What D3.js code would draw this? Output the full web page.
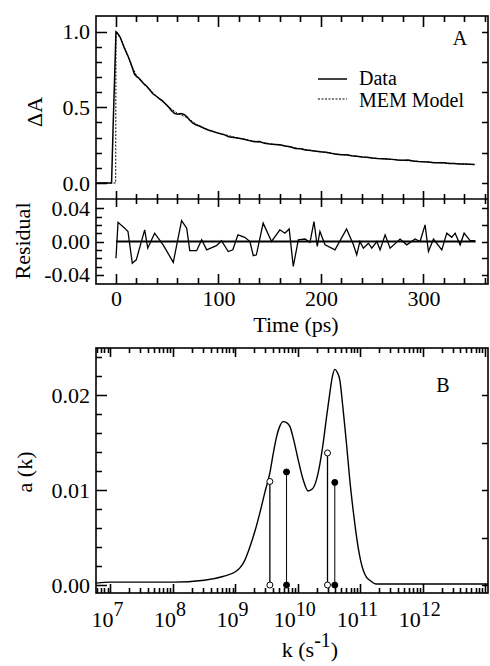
<!DOCTYPE html>
<html>
<head>
<meta charset="utf-8">
<script src="https://cdn.jsdelivr.net/npm/d3@7"></script>
<style>
body { margin: 0; background: #fff; }
text { font-family: "Liberation Serif", "Times New Roman", serif; fill: #000; }
</style>
</head>
<body>
<svg id="chart" width="490" height="666"></svg>
<script>
// panel A: transient absorption data (time in ps)
const dataTimes = [-19.5, -4.3, -2.8, 0, 1, 2, 4, 6, 8, 10, 12, 14, 16, 18, 20, 22, 24, 26, 28, 30, 33, 36, 39, 42, 45, 48, 51, 54, 57, 60, 63, 66, 69, 72, 75, 78, 82, 86, 90, 94, 98, 102, 106, 110, 115, 120, 125, 130, 135, 140, 145, 150, 155, 160, 165, 170, 175, 180, 185, 190, 195, 200, 205, 210, 215, 220, 225, 230, 235, 240, 245, 250, 255, 260, 265, 270, 275, 280, 285, 290, 295, 300, 305, 310, 315, 320, 325, 330, 335, 340, 345, 350]
const dataValues = [0, 0, 0.37, 1.0, 0.995, 0.985, 0.965, 0.93, 0.895, 0.865, 0.835, 0.8, 0.76, 0.72, 0.705, 0.695, 0.68, 0.665, 0.65, 0.64, 0.615, 0.59, 0.575, 0.56, 0.545, 0.525, 0.505, 0.48, 0.46, 0.455, 0.46, 0.455, 0.44, 0.415, 0.395, 0.385, 0.375, 0.362, 0.35, 0.342, 0.333, 0.325, 0.318, 0.306, 0.3, 0.296, 0.289, 0.28, 0.272, 0.274, 0.262, 0.258, 0.255, 0.252, 0.244, 0.24, 0.228, 0.226, 0.218, 0.214, 0.21, 0.206, 0.203, 0.196, 0.19, 0.186, 0.187, 0.18, 0.176, 0.172, 0.17, 0.165, 0.161, 0.16, 0.158, 0.156, 0.152, 0.151, 0.152, 0.146, 0.142, 0.14, 0.139, 0.134, 0.133, 0.134, 0.129, 0.128, 0.126, 0.125, 0.124, 0.122]

const modelTimes = [-19.5, -0.3, 0, 5, 10, 15, 20, 25, 30, 40, 50, 60, 70, 80, 90, 100, 120, 140, 160, 180, 200, 225, 250, 275, 300, 325, 350]
const modelValues = [0, 0, 1.0, 0.95, 0.865, 0.78, 0.71, 0.672, 0.64, 0.57, 0.51, 0.46, 0.43, 0.38, 0.35, 0.33, 0.296, 0.27, 0.25, 0.227, 0.205, 0.184, 0.165, 0.152, 0.14, 0.13, 0.122]

const residTimes = [0, 2, 8.5, 11.7, 15.9, 19.8, 28, 31, 37.7, 46, 55.9, 64, 69, 72, 78.7, 83.6, 88.5, 98, 103, 109.5, 114, 119, 125.7, 130.7, 134, 137, 143.6, 151.8, 159.9, 164.8, 169, 173, 177.9, 184.4, 189.3, 193.2, 196.4, 199, 204, 213.7, 225, 231.7, 234.9, 238, 241.4, 246.3, 249.6, 254.5, 257.7, 262.6, 267.5, 277.2, 283.7, 291.9, 296.7, 301.6, 304.9, 309.8, 317.9, 322.8, 327.6, 330.9, 335.8, 339.7, 345.5, 350.4]
const residValues = [-0.02, 0.023, 0.016, 0.012, -0.026, -0.022, 0.014, -0.008, 0.01, -0.004, -0.025, 0.025, 0.016, -0.011, -0.011, 0.002, -0.01, -0.005, 0.001, -0.012, -0.01, 0.008, 0.005, 0, -0.017, -0.016, 0.022, 0, 0.014, 0.01, 0.015, -0.03, 0.002, 0.003, -0.001, 0.024, -0.006, 0.012, -0.004, -0.01, 0.015, -0.004, -0.016, 0, -0.008, -0.002, -0.008, 0, -0.01, 0.008, -0.008, 0.003, -0.004, 0.003, 0, 0.02, -0.012, 0.003, -0.01, 0.01, 0.005, 0.01, -0.004, 0.01, 0.001, 0.001]

// panel B: rate distribution, log10(k) and amplitude
const memLogK = [6.77, 7.0, 7.5, 8.0, 8.5, 8.8, 9.0, 9.072, 9.15, 9.232, 9.31, 9.392, 9.47, 9.552, 9.605, 9.659, 9.71, 9.765, 9.82, 9.872, 9.94, 10.005, 10.085, 10.165, 10.23, 10.299, 10.352, 10.405, 10.46, 10.512, 10.552, 10.592, 10.63, 10.672, 10.72, 10.779, 10.83, 10.885, 10.925, 10.965, 11.005, 11.045, 11.1, 11.152, 11.25, 11.5, 12.0, 13.05]
const memAmp = [0.0002, 0.0003, 0.0003, 0.0003, 0.0005, 0.0009, 0.0014, 0.0018, 0.0026, 0.004, 0.0056, 0.0076, 0.0097, 0.0118, 0.0138, 0.0156, 0.0167, 0.0172, 0.0171, 0.0167, 0.0151, 0.0132, 0.0111, 0.0099, 0.0101, 0.0111, 0.0127, 0.0149, 0.0177, 0.0202, 0.0219, 0.0227, 0.0224, 0.0216, 0.0188, 0.0149, 0.0112, 0.0079, 0.0058, 0.004, 0.0026, 0.0016, 0.0008, 0.0005, 0.0001, 0.0001, 0.0001, 0.0001]

const stemLogK = [9.552, 9.819, 10.475, 10.592]
const stemAmp = [0.0109, 0.0119, 0.0139, 0.0108]
const stemFilled = [false, true, false, true]

const decadeLabels = [7, 8, 9, 10, 11, 12]

const FONT = '"Liberation Serif", "Times New Roman", serif'
const svg = d3.select('#chart')
const L = 96, R = 488

// tick marks drawn as one path per group, from the scales
function xTicks(scale, values, y, len) {
  let d = values.map(v => `M${Math.round(scale(v)) + 0.5},${y}V${y + len}`).join('')
  svg.append('path').attr('d', d).attr('fill', 'none').attr('stroke', '#000').attr('stroke-width', 1.6)
}
function yTicks(scale, values, x, len) {
  let d = values.map(v => `M${x},${Math.round(scale(v)) + 0.5}H${x + len}`).join('')
  svg.append('path').attr('d', d).attr('fill', 'none').attr('stroke', '#000').attr('stroke-width', 1.6)
}
// tick labels through d3 axes
function labelAxis(axis, transform) {
  let g = svg.append('g').attr('transform', transform).call(axis)
  g.select('.domain').remove()
  g.selectAll('line').remove()
  g.selectAll('text').attr('font-family', FONT).attr('font-size', 22).attr('fill', '#000')
  return g
}
function label(x, y, txt, size) {
  return svg.append('text').attr('x', x).attr('y', y).attr('text-anchor', 'middle')
    .attr('font-family', FONT).attr('font-size', size || 22).text(txt)
}

// ---------- panel A ----------
let xA = d3.scaleLinear().domain([-19.5, 363]).range([L, R])
let yA = d3.scaleLinear().domain([-0.106, 1.104]).range([199, 16])
let yR = d3.scaleLinear().domain([-0.051, 0.051]).range([284, 199])

let tMajor = [0, 100, 200, 300]
let tMinor = d3.range(-20, 361, 20).filter(v => v % 100 !== 0 && v >= -19)

svg.append('rect').attr('x', L).attr('y', 16).attr('width', R - L).attr('height', 284 - 16)
  .attr('fill', 'none').attr('stroke', '#000').attr('stroke-width', 1.6)
svg.append('line').attr('x1', L).attr('x2', R).attr('y1', 199).attr('y2', 199)
  .attr('stroke', '#000').attr('stroke-width', 1.6)

xTicks(xA, tMajor, 16, 11)
xTicks(xA, tMinor, 16, 6)
xTicks(xA, tMajor, 191, 16)
xTicks(xA, tMinor, 194, 10)
xTicks(xA, tMajor, 284, -10)
xTicks(xA, tMinor, 284, -6)

yTicks(yA, [0, 0.5, 1.0], L, 11)
yTicks(yA, [0.1, 0.2, 0.3, 0.4, 0.6, 0.7, 0.8, 0.9], L, 6)
yTicks(yA, [0, 0.2, 0.4, 0.6, 0.8, 1.0], R, -6)
yTicks(yR, [-0.04, 0, 0.04], L, 8)
yTicks(yR, [-0.03, -0.02, -0.01, 0.01, 0.02, 0.03], L, 6)
yTicks(yR, [-0.04, -0.02, 0, 0.02, 0.04], R, -6)

labelAxis(d3.axisBottom(xA).tickValues(tMajor).tickSize(0).tickPadding(6).tickFormat(d3.format('d')), `translate(0,284)`)
labelAxis(d3.axisLeft(yA).tickValues([0, 0.5, 1.0]).tickSize(0).tickPadding(6).tickFormat(d => d.toFixed(1)), `translate(${L},0)`)
labelAxis(d3.axisLeft(yR).tickValues([-0.04, 0, 0.04]).tickSize(0).tickPadding(6).tickFormat(d => d.toFixed(2)), `translate(${L},0)`)

let lineA = d3.line().x(d => xA(d[0])).y(d => yA(d[1]))
svg.append('path').datum(modelTimes.map((t, i) => [t, modelValues[i]]))
  .attr('d', lineA).attr('fill', 'none').attr('stroke', '#000').attr('stroke-width', 1).attr('stroke-dasharray', '2,1.5')
svg.append('path').datum(dataTimes.map((t, i) => [t, dataValues[i]]))
  .attr('d', lineA).attr('fill', 'none').attr('stroke', '#000').attr('stroke-width', 1.5)

// residual
svg.append('line').attr('x1', xA(0)).attr('x2', xA(351)).attr('y1', yR(0)).attr('y2', yR(0))
  .attr('stroke', '#000').attr('stroke-width', 2)
let lineR = d3.line().x(d => xA(d[0])).y(d => yR(d[1]))
svg.append('path').datum(residTimes.map((t, i) => [t, residValues[i]]))
  .attr('d', lineR).attr('fill', 'none').attr('stroke', '#000').attr('stroke-width', 1.3)

// legend and labels for A
svg.append('line').attr('x1', 318).attr('x2', 347).attr('y1', 79).attr('y2', 79).attr('stroke', '#000').attr('stroke-width', 1.5)
svg.append('line').attr('x1', 318).attr('x2', 347).attr('y1', 99).attr('y2', 99).attr('stroke', '#000').attr('stroke-width', 1).attr('stroke-dasharray', '2,1.5')
label(359, 85, 'Data', 20).attr('text-anchor', 'start')
label(359, 107, 'MEM Model', 20).attr('text-anchor', 'start')
label(460, 45, 'A', 20)

label(0, 0, 'ΔA').attr('transform', 'translate(42,112) rotate(-90)')
label(0, 0, 'Residual').attr('transform', 'translate(30,241) rotate(-90)')
label(296, 332, 'Time (ps)')

// ---------- panel B ----------
const T = 348, B = 593
let xB = d3.scaleLog().domain([Math.pow(10, 6.768), Math.pow(10, 13.045)]).range([L, R])
let yB = d3.scaleLinear().domain([-0.00084, 0.02495]).range([B, T])

let decades = d3.range(7, 14).map(n => Math.pow(10, n))
let logMinor = []
d3.range(6, 13).forEach(n => d3.range(2, 10).forEach(m => {
  let v = m * Math.pow(10, n)
  if (v > xB.domain()[0] && v < xB.domain()[1]) logMinor.push(v)
}))

svg.append('rect').attr('x', L).attr('y', T).attr('width', R - L).attr('height', B - T)
  .attr('fill', 'none').attr('stroke', '#000').attr('stroke-width', 1.6)

xTicks(xB, decades, B, -9)
xTicks(xB, logMinor, B, -5)
xTicks(xB, decades, T, 9)
xTicks(xB, logMinor, T, 5)
yTicks(yB, [0, 0.01, 0.02], L, 11)
yTicks(yB, [0.002, 0.004, 0.006, 0.008, 0.012, 0.014, 0.016, 0.018, 0.022, 0.024], L, 6)
yTicks(yB, [0, 0.005, 0.01, 0.015, 0.02], R, -6)

labelAxis(d3.axisLeft(yB).tickValues([0, 0.01, 0.02]).tickSize(0).tickPadding(6).tickFormat(d => d.toFixed(2)), `translate(${L},0)`)

// decade labels with superscripts
let dl = svg.append('g').selectAll('text').data(decadeLabels).join('text')
  .attr('x', d => xB(Math.pow(10, d)) - 3)
  .attr('y', 627)
  .attr('text-anchor', 'middle')
  .attr('font-family', FONT).attr('font-size', 22)
dl.append('tspan').text('10')
dl.append('tspan').attr('dy', -11).attr('font-size', 20).text(d => d)

let lineB = d3.line().x(d => xB(Math.pow(10, d[0]))).y(d => yB(d[1])).curve(d3.curveMonotoneX)
svg.append('path').datum(memLogK.map((k, i) => [k, memAmp[i]]))
  .attr('d', lineB).attr('fill', 'none').attr('stroke', '#000').attr('stroke-width', 1.4)

let stems = svg.append('g').selectAll('g').data(stemLogK.map((k, i) => ({k, a: stemAmp[i], f: stemFilled[i]}))).join('g')
stems.append('line')
  .attr('x1', d => xB(Math.pow(10, d.k))).attr('x2', d => xB(Math.pow(10, d.k)))
  .attr('y1', yB(0)).attr('y2', d => yB(d.a))
  .attr('stroke', '#000').attr('stroke-width', d => d.f ? 1 : 1.3)
stems.selectAll('circle').data(d => [[d.k, 0, d.f], [d.k, d.a, d.f]]).join('circle')
  .attr('cx', d => xB(Math.pow(10, d[0]))).attr('cy', d => yB(d[1])).attr('r', 3)
  .attr('fill', d => d[2] ? '#000' : '#fff').attr('stroke', '#000').attr('stroke-width', 1)

label(443, 392, 'B', 20)
label(0, 0, 'a (k)').attr('transform', 'translate(32,472) rotate(-90)')
let kl = label(310, 657, '')
kl.append('tspan').text('k (s')
kl.append('tspan').attr('dy', -10).attr('font-size', 20).text('-1')
kl.append('tspan').attr('dy', 10).text(')')
</script>
</body>
</html>
